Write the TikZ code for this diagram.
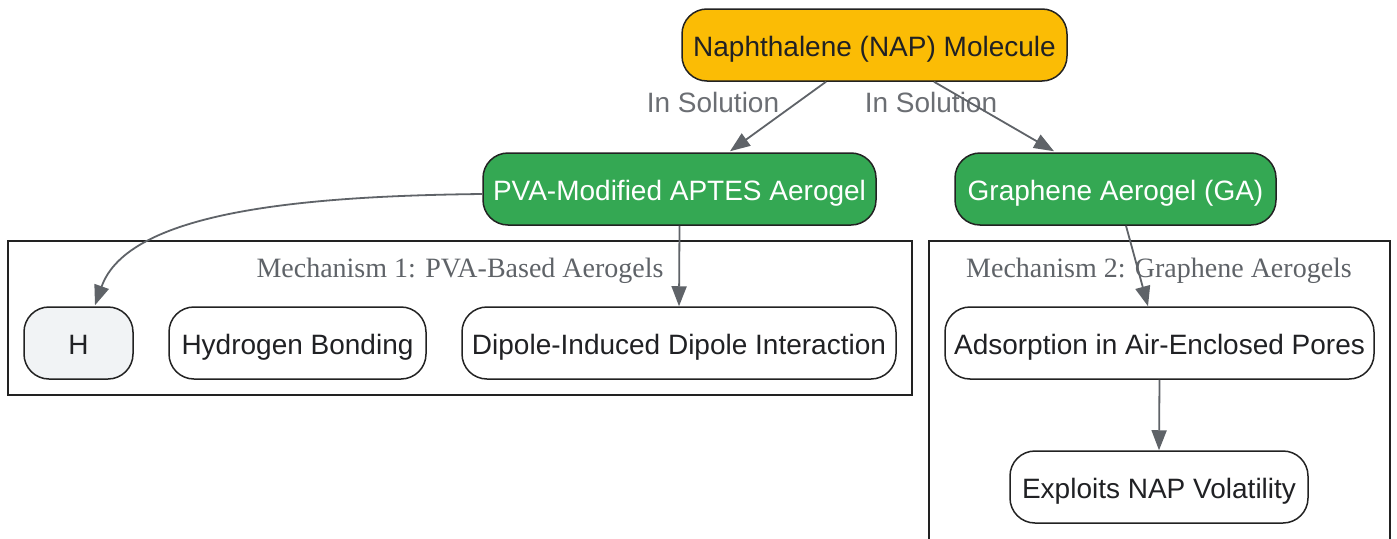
\documentclass[tikz,border=0pt]{standalone}
\usepackage{fontspec}
\setmainfont{Liberation Sans}
\newfontfamily\clusterfont{Liberation Serif}
\usetikzlibrary{arrows.meta,positioning,calc}
\definecolor{napfill}{HTML}{FBBC05}
\definecolor{greenfill}{HTML}{34A853}
\definecolor{hfill}{HTML}{F1F3F5}
\definecolor{edgegray}{HTML}{5F6368}
\definecolor{labelgray}{HTML}{6B6E73}
\definecolor{textdark}{HTML}{202124}
\definecolor{borderdark}{HTML}{222222}
\tikzset{
  box/.style={draw=borderdark, line width=1.5pt, rounded corners=25pt, inner sep=0pt,
    minimum height=72pt, text height=27pt, text depth=5pt,
    font=\fontsize{28}{32}\selectfont, text=textdark, fill=white},
  napbox/.style={box, fill=napfill},
  greenbox/.style={box, fill=greenfill, text=white},
  hbox/.style={box, fill=hfill},
  arr/.style={draw=edgegray, line width=1.8pt, -{Triangle[length=20pt,width=15pt]}},
  elabel/.style={text=labelgray, font=\fontsize{28}{32}\selectfont, inner sep=0pt,
    text height=25pt, text depth=5pt},
  cluster/.style={draw=borderdark, line width=2pt},
  clabel/.style={text=edgegray, font=\clusterfont\fontsize{28}{32}\selectfont, inner sep=0pt,
    text height=25pt, text depth=5pt}
}
\begin{document}
\begin{tikzpicture}[x=1pt,y=-1pt]
\useasboundingbox (0,0) rectangle (1397,538);
\fill[white] (0,0) rectangle (1397,538);
% clusters
\draw[cluster] (8,241) rectangle (912,395);
\node[clabel] (c1) at (460,267) {Mechanism 1: PVA-Based Aerogels};
\draw[cluster] (929,241) -- (929,548) -- (1390,548) -- (1390,241) -- cycle;
\node[clabel] (c2) at (1159,267) {Mechanism 2: Graphene Aerogels};
% nodes
\node[napbox, minimum width=385pt] (nap) at (874.5,45) {Naphthalene (NAP) Molecule};
\node[greenbox, minimum width=393pt] (pva) at (679.5,189) {PVA-Modified APTES Aerogel};
\node[greenbox, minimum width=321pt] (ga) at (1115.5,189) {Graphene Aerogel (GA)};
\node[hbox, minimum width=109pt] (h) at (78.5,343) {H};
\node[box, minimum width=257pt] (hb) at (297.5,343) {Hydrogen Bonding};
\node[box, minimum width=434pt] (dip) at (679,343) {Dipole-Induced Dipole Interaction};
\node[box, minimum width=429pt] (ads) at (1159.5,343) {Adsorption in Air-Enclosed Pores};
\node[box, minimum width=298pt] (exp) at (1159,487) {Exploits NAP Volatility};
% edge labels
\node[elabel] (l1) at (713,102) {In Solution};
\node[elabel] (l2) at (931,102) {In Solution};
% edges
\draw[arr] ($(nap.south)+(-48.5,0)$) -- ($(pva.north)+(50.5,-1)$);
\draw[arr] ($(nap.south)+(59.5,0)$) -- ($(ga.north)+(-61.5,-1)$);
\draw[arr] ($(pva.west)+(0,5)$) .. controls (300,196) and (128,212) .. ($(h.north)+(16.5,-1)$);
\draw[arr] (pva.south) -- (dip.north);
\draw[arr] ($(ga.south)+(10.5,0)$) -- ($(ads.north)+(-11.5,0)$);
\draw[arr] (ads.south) -- (exp.north);
\end{tikzpicture}
\end{document}
